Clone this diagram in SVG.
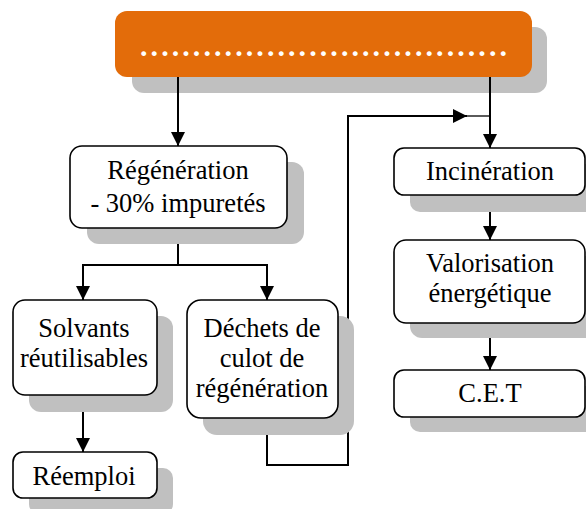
<svg xmlns="http://www.w3.org/2000/svg" width="586" height="509" viewBox="0 0 586 509" font-family="Liberation Serif, Times New Roman, serif">
<style>
.box{fill:#fff;stroke:#000;stroke-width:1.6}
.sh{fill:#c0c0c0}
.t{font-size:26.5px;fill:#000;text-anchor:middle}
.c{fill:none;stroke:#000;stroke-width:2}
</style>
<defs>
<marker id="ah" viewBox="0 0 14 14" refX="14" refY="7" markerWidth="14" markerHeight="14" markerUnits="userSpaceOnUse" orient="auto">
<path d="M0,0 L14,7 L0,14 Z" fill="#000"/>
</marker>
</defs>
<g id="top">
<rect class="sh" x="132" y="27" width="415" height="66" rx="12"/>
<rect x="115" y="11" width="417" height="66" rx="12" fill="#e36c0a"/>
<text x="140" y="56" font-size="30" font-weight="bold" fill="#fff" textLength="367" lengthAdjust="spacing">...................................</text>
</g>
<g id="connectors">
<path class="c" d="M178,77 V146" marker-end="url(#ah)"/>
<path class="c" d="M490,77 V148" marker-end="url(#ah)"/>
<path class="c" d="M178,228 V265 M82,265 H268"/>
<path class="c" d="M83,265 V300" marker-end="url(#ah)"/>
<path class="c" d="M267,265 V300" marker-end="url(#ah)"/>
<path class="c" d="M83,395 V452" marker-end="url(#ah)"/>
<path class="c" d="M267,418 V465 H348 V116 H467" marker-end="url(#ah)"/>
<path d="M467,116 H490" stroke="#000" stroke-width="1.3"/>
<path class="c" d="M490,195 V240" marker-end="url(#ah)"/>
<path class="c" d="M490,323 V370" marker-end="url(#ah)"/>
</g>
<g id="regeneration">
<rect class="sh" x="87" y="162" width="217" height="82" rx="12"/>
<rect class="box" x="70" y="146" width="217" height="82" rx="12"/>
<text class="t" x="178" y="179">Régénération</text>
<text class="t" x="178" y="212">- 30% impuretés</text>
</g>
<g id="solvants">
<rect class="sh" x="29" y="316" width="144" height="96" rx="12"/>
<rect class="box" x="13" y="300" width="144" height="95" rx="12"/>
<text class="t" x="84" y="337">Solvants</text>
<text class="t" x="84" y="367">réutilisables</text>
</g>
<g id="reemploi">
<rect class="sh" x="29" y="468" width="144" height="46" rx="10"/>
<rect class="box" x="13" y="452" width="144" height="46" rx="10"/>
<text class="t" x="84" y="485">Réemploi</text>
</g>
<g id="dechets">
<rect class="sh" x="203" y="316" width="151" height="119" rx="14"/>
<rect class="box" x="187" y="300" width="151" height="118" rx="14"/>
<text class="t" x="262" y="337">Déchets de</text>
<text class="t" x="262" y="367">culot de</text>
<text class="t" x="262" y="397">régénération</text>
</g>
<g id="incineration">
<rect class="sh" x="410" y="164" width="191" height="48" rx="10"/>
<rect class="box" x="394" y="148" width="191" height="47" rx="10"/>
<text class="t" x="490" y="180">Incinération</text>
</g>
<g id="valorisation">
<rect class="sh" x="410" y="256" width="191" height="82" rx="12"/>
<rect class="box" x="394" y="240" width="191" height="83" rx="12"/>
<text class="t" x="490" y="272">Valorisation</text>
<text class="t" x="490" y="302">énergétique</text>
</g>
<g id="cet">
<rect class="sh" x="410" y="386" width="191" height="46" rx="10"/>
<rect class="box" x="394" y="370" width="191" height="47" rx="10"/>
<text class="t" x="490" y="402">C.E.T</text>
</g>
</svg>
